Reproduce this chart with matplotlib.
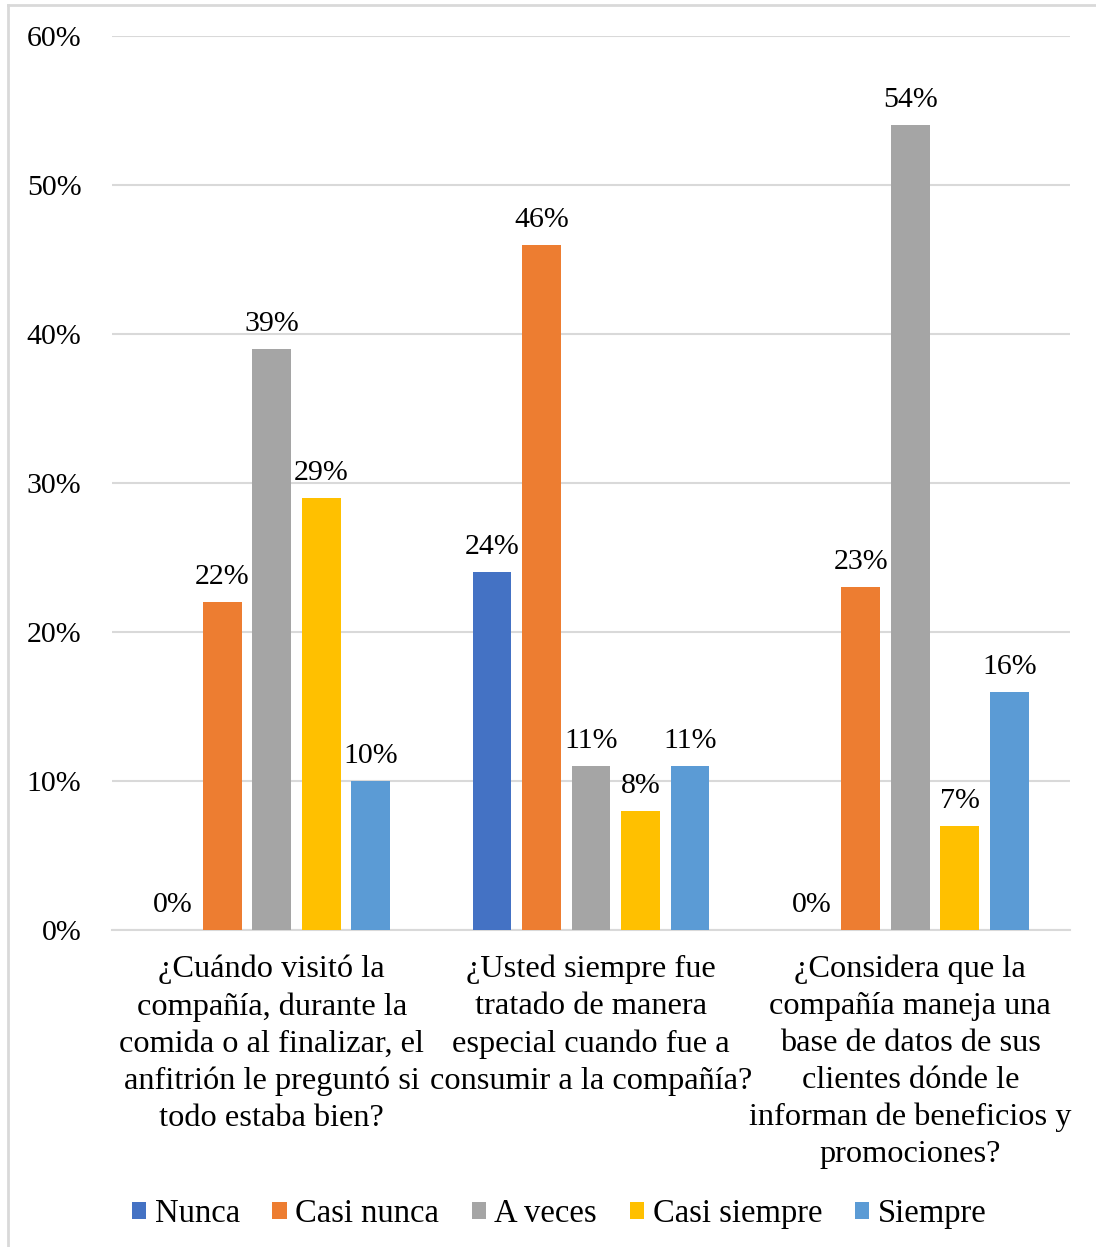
import matplotlib.pyplot as plt
import numpy as np
from matplotlib.lines import Line2D

plt.rcParams['font.family'] = ['Liberation Serif', 'DejaVu Serif']

preguntas = [
    "¿Cuándo visitó la\ncompañía, durante la\ncomida o al finalizar, el\nanfitrión le preguntó si\ntodo estaba bien?",
    "¿Usted siempre fue\ntratado de manera\nespecial cuando fue a\nconsumir a la compañía?",
    "¿Considera que la\ncompañía maneja una\nbase de datos de sus\nclientes dónde le\ninforman de beneficios y\npromociones?",
]
respuestas = ["Nunca", "Casi nunca", "A veces", "Casi siempre", "Siempre"]
nunca = [0, 24, 0]
casi_nunca = [22, 46, 23]
a_veces = [39, 11, 54]
casi_siempre = [29, 8, 7]
siempre = [10, 11, 16]
colores = ["#4472C4", "#ED7D31", "#A5A5A5", "#FFC000", "#5B9BD5"]
yticks = [0, 10, 20, 30, 40, 50, 60]

series = [nunca, casi_nunca, a_veces, casi_siempre, siempre]

W, H = 1096, 1247
fig = plt.figure(figsize=(W / 100, H / 100), dpi=100)
ax = fig.add_axes([112 / W, 1 - 930 / H, 958 / W, 894 / H])

x = np.arange(len(preguntas))
paso = 0.155
ancho = 0.122
for i, (vals, col, nom) in enumerate(zip(series, colores, respuestas)):
    pos = x + (i - 2) * paso
    ax.bar(pos, vals, width=ancho, color=col, label=nom, zorder=3)
    for px, v in zip(pos, vals):
        ax.annotate(f"{v}%", (px, v), xytext=(0, 13), textcoords="offset points",
                    ha="center", va="baseline", fontsize=21.5, color="#000000")

ax.set_xlim(-0.5, 2.5)
ax.set_ylim(0, 60)
ax.set_yticks(yticks)
ax.set_yticklabels([f"{t}%" for t in yticks], fontsize=21.5)
ax.set_xticks(x)
ax.set_xticklabels(preguntas, fontsize=23.3, linespacing=1.355)
ax.tick_params(axis="x", length=0, pad=18)
ax.tick_params(axis="y", length=0, pad=22)
ax.grid(axis="y", color="#d9d9d9", linewidth=1.5, zorder=0)
for s in ["top", "right", "left"]:
    ax.spines[s].set_visible(False)
ax.spines["bottom"].set_color("#d9d9d9")
ax.spines["bottom"].set_linewidth(1.5)

fig.legend(loc="center", bbox_to_anchor=(559 / W, 1 - 1214 / H), ncol=5,
           frameon=False, fontsize=23.5, handlelength=0.45, handleheight=0.45,
           handletextpad=0.25, columnspacing=1.0)

# marco del área del gráfico
fig.add_artist(Line2D([8 / W, 8 / W], [0, 1 - 5 / H], color="#d9d9d9", linewidth=2))
fig.add_artist(Line2D([8 / W, 1], [1 - 5 / H, 1 - 5 / H], color="#d9d9d9", linewidth=2))

fig.savefig("out.png", dpi=100)
